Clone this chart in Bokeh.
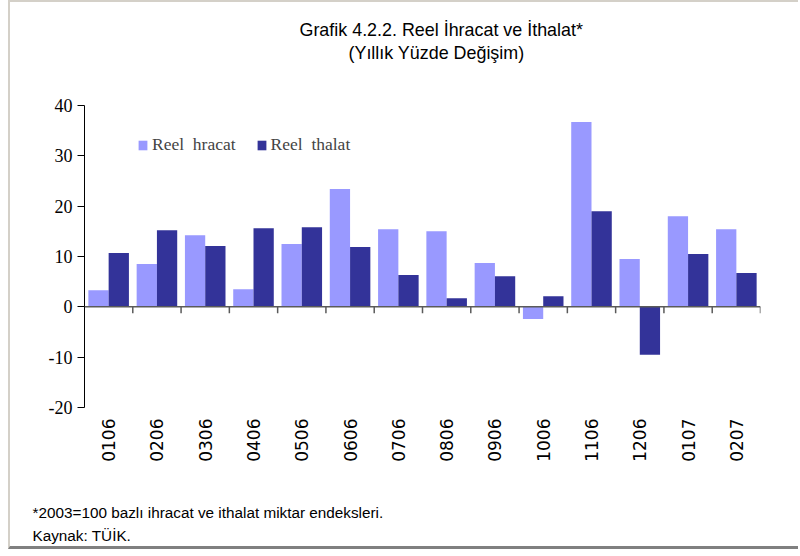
import math
from bokeh.plotting import figure
from bokeh.models import (ColumnDataSource, FactorRange, Range1d, Legend,
                          LegendItem, Span, FixedTicker, Title)
from bokeh.transform import dodge
from bokeh.embed import file_html
from bokeh.resources import INLINE

# ---- data ----
months = ["0106", "0206", "0306", "0406", "0506", "0606", "0706",
          "0806", "0906", "1006", "1106", "1206", "0107", "0207"]
reel_ihracat = [3.3, 8.5, 14.2, 3.5, 12.5, 23.4, 15.4, 15.0, 8.7, -2.4, 36.7, 9.5, 18.0, 15.4]
reel_ithalat = [10.7, 15.2, 12.1, 15.6, 15.8, 11.9, 6.3, 1.7, 6.1, 2.1, 19.0, -9.5, 10.5, 6.7]
y_ticks = [-20, -10, 0, 10, 20, 30, 40]
y_tick_labels = {-20: "-20", -10: "-10", 0: "0", 10: "10", 20: "20", 30: "30", 40: "40"}
legend_labels = ["Reel  hracat", "Reel  thalat"]
title_lines = ["Grafik 4.2.2. Reel İhracat ve İthalat*", "(Yıllık Yüzde Değişim)"]
note_lines = ["*2003=100 bazlı ihracat ve ithalat miktar endeksleri.", "Kaynak: TÜİK."]

LIGHT = "#9999FF"
DARK = "#333399"

src = ColumnDataSource(dict(month=months, ihr=reel_ihracat, ith=reel_ithalat))

p = figure(x_range=FactorRange(factors=months), y_range=Range1d(-20, 40),
           width=790, height=549, output_backend="svg", toolbar_location=None,
           min_border_left=74, min_border_right=40, min_border_top=103, min_border_bottom=144)
p.styles = {"margin-left": "8px",
            "border-left": "2px solid #D4D0C8",
            "border-top": "2px solid #D4D0C8",
            "border-bottom": "3px solid #808080"}
p.outline_line_color = None
p.xgrid.grid_line_color = None
p.ygrid.grid_line_color = None
p.background_fill_color = "white"
p.border_fill_color = "white"

r1 = p.vbar(x=dodge("month", -0.21, range=p.x_range), top="ihr", width=0.42,
            source=src, fill_color=LIGHT, line_color=None)
r2 = p.vbar(x=dodge("month", 0.21, range=p.x_range), top="ith", width=0.42,
            source=src, fill_color=DARK, line_color=None)

# zero line with boundary ticks
p.add_layout(Span(location=0, dimension="width", line_color="#5a5a5a", line_width=1.5))
p.segment(x0=dodge("month", 0.5, range=p.x_range), x1=dodge("month", 0.5, range=p.x_range),
          y0=0, y1=-1.25, source=src, line_color="#5a5a5a", line_width=1.5)

# y axis
ya = p.yaxis[0]
ya.ticker = FixedTicker(ticks=y_ticks)
ya.major_label_overrides = y_tick_labels
ya.major_tick_in = 0
ya.major_tick_out = 7
ya.minor_tick_line_color = None
ya.axis_line_color = "black"
ya.major_tick_line_color = "black"
ya.major_label_standoff = 5
ya.major_label_text_font = "Liberation Serif"
ya.major_label_text_font_size = "18px"
ya.major_label_text_color = "black"

# x axis: only vertical labels (reading bottom to top)
xa = p.xaxis[0]
xa.axis_line_color = None
xa.major_tick_line_color = None
xa.minor_tick_line_color = None
xa.major_tick_out = 0
xa.major_label_standoff = 11
xa.major_label_orientation = math.pi / 2
xa.major_label_text_font = "DejaVu Sans"
xa.major_label_text_font_size = "17px"
xa.major_label_text_color = "black"

legend = Legend(items=[LegendItem(label=legend_labels[0], renderers=[r1]),
                       LegendItem(label=legend_labels[1], renderers=[r2])],
                orientation="horizontal", location=(53, 252),
                glyph_width=11, glyph_height=12, label_standoff=4, spacing=20,
                padding=0, margin=0, border_line_color=None, background_fill_alpha=0,
                label_text_font="Liberation Serif", label_text_font_size="17.5px",
                label_height=20)
p.add_layout(legend)

title_style = dict(text_font="Liberation Sans", text_font_size="17.9px",
                   text_font_style="normal", text_color="black")
# spacer between frame and title (stacked outward from the frame)
p.add_layout(Title(text=" ", standoff=40, text_font_size="1px"), "above")
# title line 2
p.add_layout(Title(text=title_lines[1], align="left", offset=264, standoff=0, **title_style), "above")
# title line 1 (outermost)
p.title.text = title_lines[0]
p.title.align = "left"
p.title.offset = 215
p.title.standoff = 2
for k, v in title_style.items():
    setattr(p.title, k, v)

# spacer below the axis labels, then the two-line footnote
p.add_layout(Title(text=" ", standoff=35, text_font_size="1px"), "below")
note = Title(text="\n".join(note_lines), align="left", offset=-52, standoff=0,
             text_font="Liberation Sans", text_font_size="15.3px", text_font_style="normal",
             text_line_height=1.38, text_color="black")
p.add_layout(note, "below")

open("out.html", "w").write(file_html(p, INLINE))
